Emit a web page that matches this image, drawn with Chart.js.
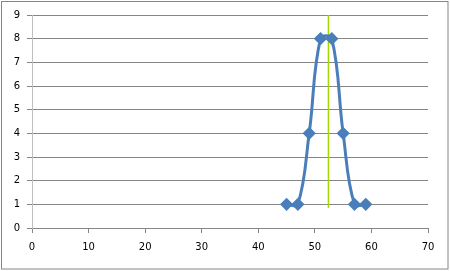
<!DOCTYPE html>
<html>
<head>
<meta charset="utf-8">
<script src="https://cdn.jsdelivr.net/npm/chart.js@4/dist/chart.umd.min.js"></script>
<style>
  html, body { margin: 0; padding: 0; background: #fff; }
  #wrap { width: 450px; height: 271px; }
</style>
</head>
<body>
<div id="wrap"><canvas id="chart" width="450" height="271"></canvas></div>
<script>
const xValues = [45, 47, 49, 51, 53, 55, 57, 59];
const yValues = [1, 1, 4, 8, 8, 4, 1, 1];
const markerX = [52.4, 52.4];
const markerY = [0.85, 9];
const xTicks = [0, 10, 20, 30, 40, 50, 60, 70];
const yTicks = [0, 1, 2, 3, 4, 5, 6, 7, 8, 9];

const frame = {
  id: 'frame',
  afterDraw(chart) {
    const c = chart.ctx;
    c.save();
    c.strokeStyle = '#868686';
    c.lineWidth = 1;
    c.strokeRect(1.5, 1.5, 446.5, 267.5);
    c.restore();
  }
};

new Chart(document.getElementById('chart'), {
  type: 'scatter',
  data: {
    datasets: [{
      data: xValues.map((x, i) => ({ x: x, y: yValues[i] })),
      showLine: true,
      tension: 0.4,
      borderColor: '#4a7ebb',
      backgroundColor: '#4a7ebb',
      borderWidth: 3,
      pointStyle: 'rectRot',
      pointRadius: 4.5,
      pointHoverRadius: 4.5
    }, {
      data: markerX.map((x, i) => ({ x: x, y: markerY[i] })),
      showLine: true,
      borderColor: '#a6d600',
      borderWidth: 1.5,
      pointRadius: 0
    }]
  },
  options: {
    responsive: false,
    animation: false,
    layout: { padding: { left: 0, top: 15, right: 22, bottom: 0 } },
    plugins: { legend: { display: false }, tooltip: { enabled: false } },
    scales: {
      x: {
        type: 'linear',
        min: 0, max: 70,
        afterBuildTicks(s) { s.ticks = xTicks.map(v => ({ value: v })); },
        afterFit(s) { s.height = 43; },
        grid: { drawOnChartArea: false, drawTicks: true, tickLength: 5, color: '#868686' },
        border: { color: '#868686' },
        ticks: { padding: 8, color: '#000', font: { family: 'DejaVu Sans', size: 10 } }
      },
      y: {
        min: 0, max: 9,
        afterBuildTicks(s) { s.ticks = yTicks.map(v => ({ value: v })); },
        afterFit(s) { s.width = 32; },
        grid: { color: '#868686', tickLength: 5 },
        border: { color: '#bfbfbf' },
        ticks: { padding: 7, color: '#000', font: { family: 'DejaVu Sans', size: 10 } }
      }
    }
  },
  plugins: [frame]
});
</script>
</body>
</html>
